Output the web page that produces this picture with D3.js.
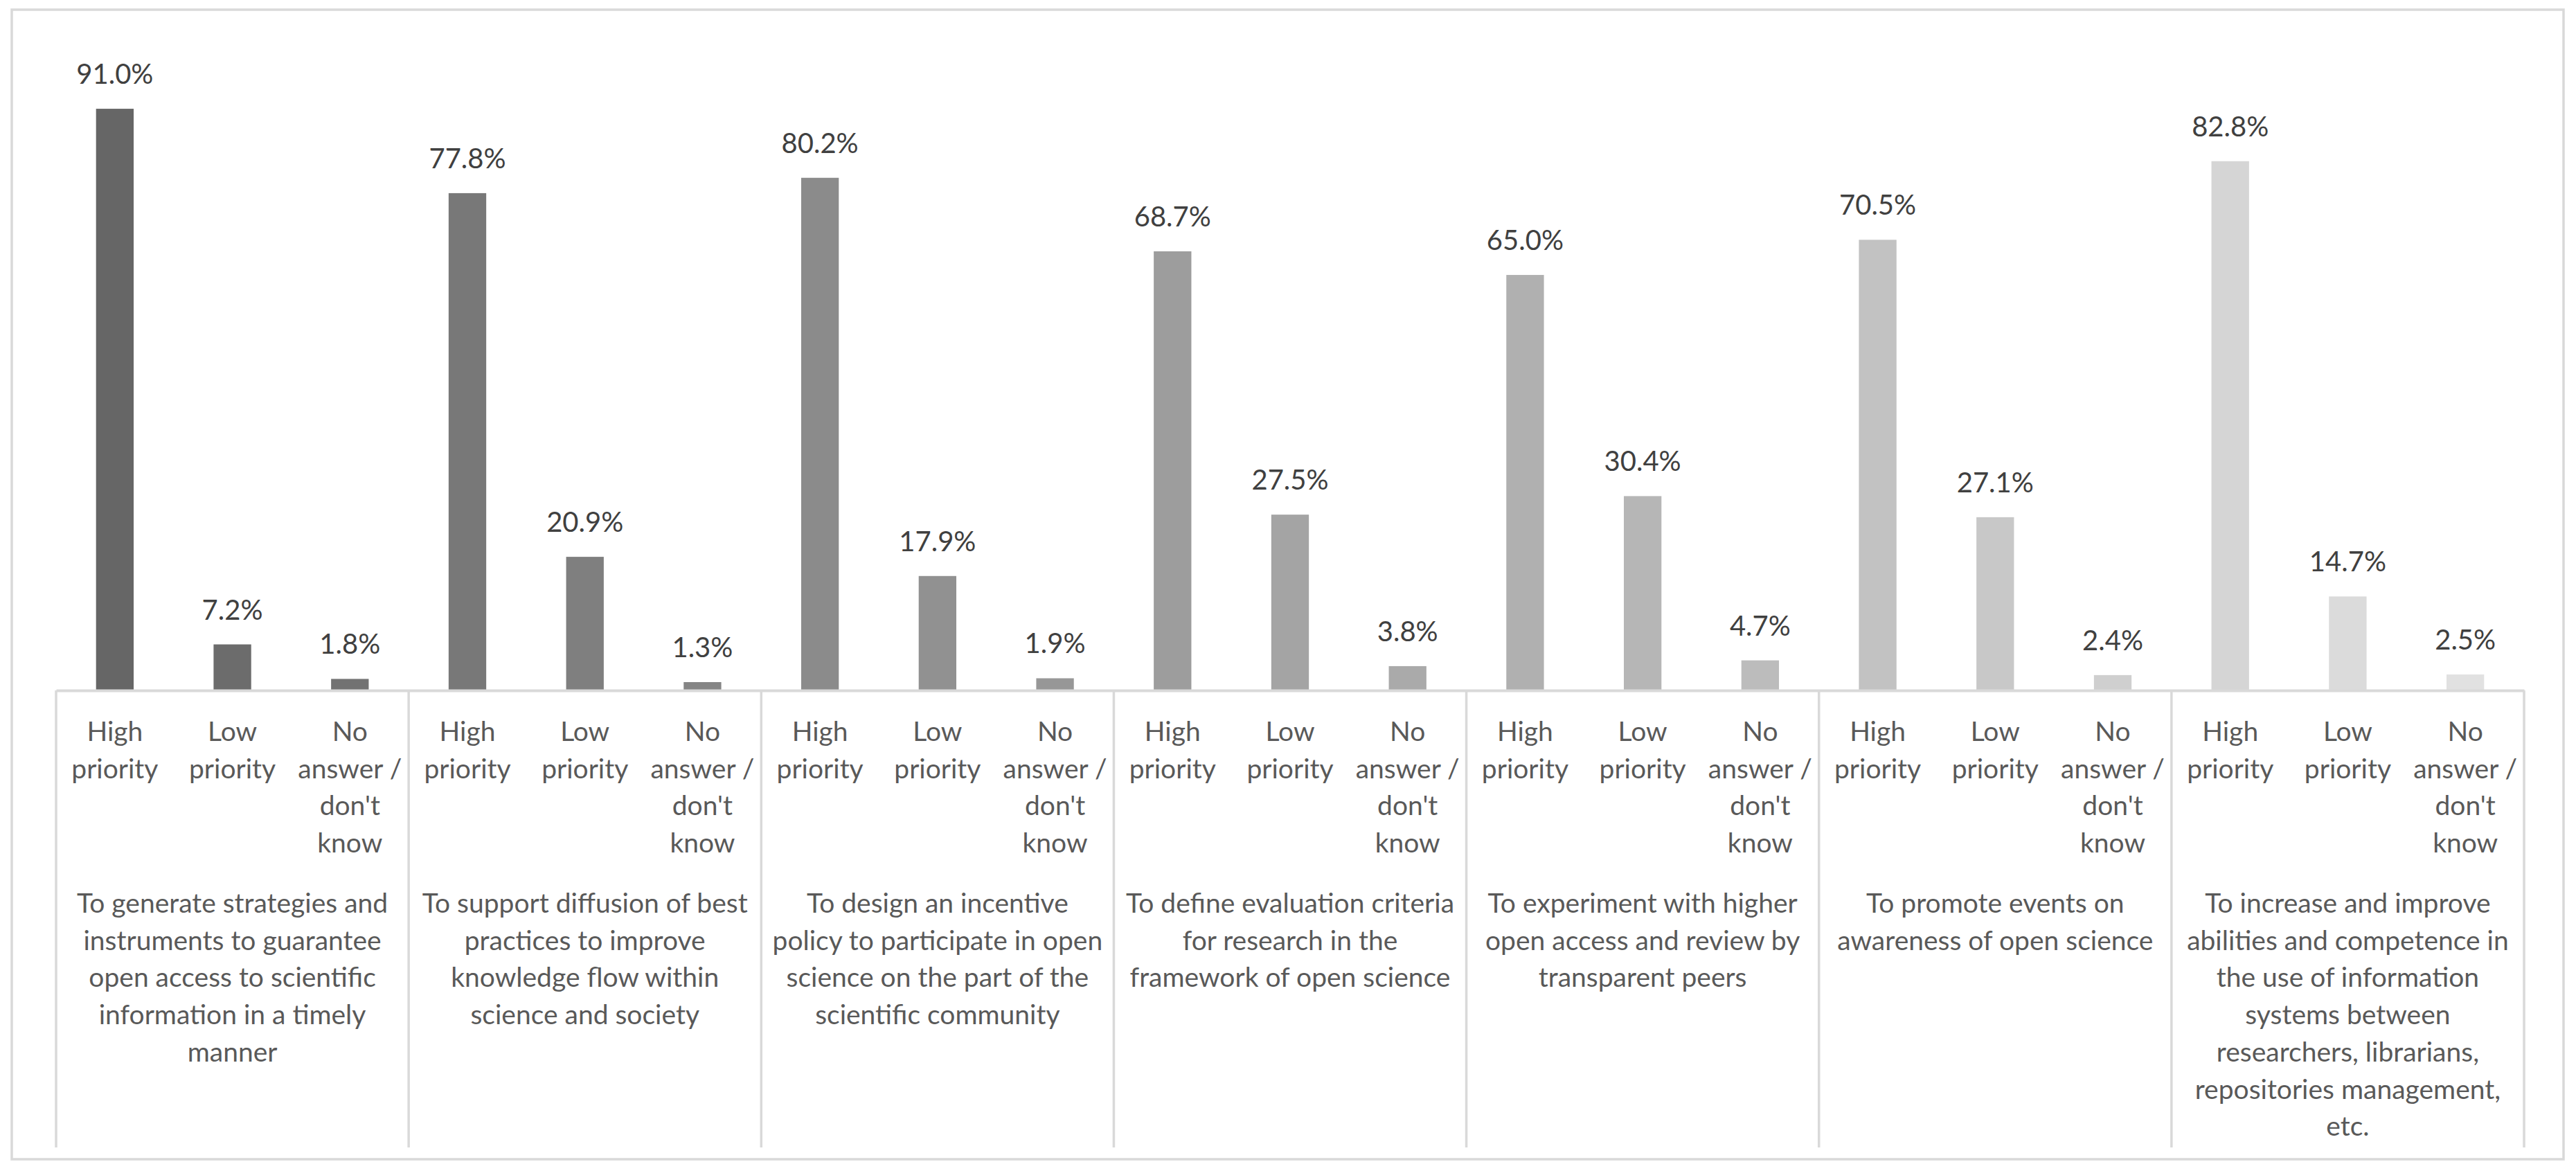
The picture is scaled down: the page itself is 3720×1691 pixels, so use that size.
<!DOCTYPE html>
<html>
<head>
<meta charset="utf-8">
<script src="https://cdn.jsdelivr.net/npm/d3@7/dist/d3.min.js"></script>
<style>
  body { margin: 0; background: #fff; }
  svg { display: block; }
  text { font-family: Lato, "Open Sans", sans-serif; }
</style>
</head>
<body>
<svg width="3720" height="1691"></svg>
<script>
// categories (already broken into lines as in the original)
var categories = [
  ["To generate strategies and", "instruments to guarantee", "open access to scientific", "information in a timely", "manner"],
  ["To support diffusion of best", "practices to improve", "knowledge flow within", "science and society"],
  ["To design an incentive", "policy to participate in open", "science on the part of the", "scientific community"],
  ["To define evaluation criteria", "for research in the", "framework of open science"],
  ["To experiment with higher", "open access and review by", "transparent peers"],
  ["To promote events on", "awareness of open science"],
  ["To increase and improve", "abilities and competence in", "the use of information", "systems between", "researchers, librarians,", "repositories management,", "etc."]
];

var seriesNames = ["High priority", "Low priority", "No answer / don't know"];
var seriesLines = [["High", "priority"], ["Low", "priority"], ["No", "answer /", "don't", "know"]];

var highPriority = [91.0, 77.8, 80.2, 68.7, 65.0, 70.5, 82.8];
var lowPriority = [7.2, 20.9, 17.9, 27.5, 30.4, 27.1, 14.7];
var noAnswer = [1.8, 1.3, 1.9, 3.8, 4.7, 2.4, 2.5];

var series = [highPriority, lowPriority, noAnswer];

var svg = d3.select("svg"),
    left = 81, right = 3645,
    baseY = 997, topY = 74,
    lineH = 53.7;

svg.append("rect")
  .attr("x", 17).attr("y", 14)
  .attr("width", 3702 - 17).attr("height", 1674 - 14)
  .attr("fill", "#fff")
  .attr("stroke", "#d9d9d9")
  .attr("stroke-width", 3.5);

var idx = d3.range(categories.length);

var x0 = d3.scaleBand()
  .domain(idx)
  .range([left, right])
  .paddingInner(0);

var x1 = d3.scaleBand()
  .domain(d3.range(seriesNames.length))
  .range([0, x0.bandwidth()])
  .paddingInner(0.68)
  .paddingOuter(0.34);

var y = d3.scaleLinear()
  .domain([0, 100])
  .range([baseY, topY]);

// every bar gets its own grey, dark to light, like excel's "vary colours by point"
var shade = d3.scaleLinear()
  .domain([0, categories.length * seriesNames.length - 1])
  .range(["#666666", "#e1e1e1"]);

var data = [];
idx.forEach(function(c) {
  series.forEach(function(s, k) {
    data.push({cat: c, key: k, value: s[c], n: c * seriesNames.length + k});
  });
});

var g = svg.append("g");

g.selectAll("rect.bar")
  .data(data)
  .enter().append("rect")
  .attr("class", "bar")
  .attr("x", function(d) { return x0(d.cat) + x1(d.key); })
  .attr("y", function(d) { return y(d.value); })
  .attr("width", x1.bandwidth())
  .attr("height", function(d) { return baseY - y(d.value); })
  .attr("fill", function(d) { return shade(d.n); });

g.selectAll("text.val")
  .data(data)
  .enter().append("text")
  .attr("class", "val")
  .attr("x", function(d) { return x0(d.cat) + x1(d.key) + x1.bandwidth() / 2; })
  .attr("y", function(d) { return y(d.value) - 36; })
  .attr("text-anchor", "middle")
  .attr("font-size", 40)
  .attr("fill", "#404040")
  .text(function(d) { return d.value.toFixed(1) + "%"; });

// category axis
var axis = svg.append("g")
  .attr("transform", "translate(0," + baseY + ")")
  .call(d3.axisBottom(x0).tickSize(0).tickFormat(""));
axis.select(".domain")
  .attr("stroke", "#d9d9d9")
  .attr("stroke-width", 4);

var bounds = idx.map(function(c) { return x0(c); }).concat([x0(idx[idx.length - 1]) + x0.bandwidth()]);
svg.append("g").selectAll("line")
  .data(bounds)
  .enter().append("line")
  .attr("x1", function(d) { return d; })
  .attr("x2", function(d) { return d; })
  .attr("y1", baseY)
  .attr("y2", 1657)
  .attr("stroke", "#d9d9d9")
  .attr("stroke-width", 3.5);

// series labels under each bar
var sub = svg.append("g")
  .attr("font-size", 39)
  .attr("fill", "#595959")
  .attr("text-anchor", "middle");

data.forEach(function(d) {
  var t = sub.append("text")
    .attr("x", x0(d.cat) + x1(d.key) + x1.bandwidth() / 2)
    .attr("y", baseY + 73);
  seriesLines[d.key].forEach(function(l, i) {
    t.append("tspan")
      .attr("x", x0(d.cat) + x1(d.key) + x1.bandwidth() / 2)
      .attr("dy", i === 0 ? 0 : lineH)
      .text(l);
  });
});

// outer level: the category texts
var cat = svg.append("g")
  .attr("font-size", 39)
  .attr("fill", "#595959")
  .attr("text-anchor", "middle");

cat.selectAll("text")
  .data(idx)
  .enter().append("text")
  .attr("y", baseY + 321)
  .each(function(c) {
    var cx = x0(c) + x0.bandwidth() / 2;
    var t = d3.select(this);
    categories[c].forEach(function(l, i) {
      t.append("tspan")
        .attr("x", cx)
        .attr("dy", i === 0 ? 0 : lineH)
        .text(l);
    });
  });
</script>
</body>
</html>
